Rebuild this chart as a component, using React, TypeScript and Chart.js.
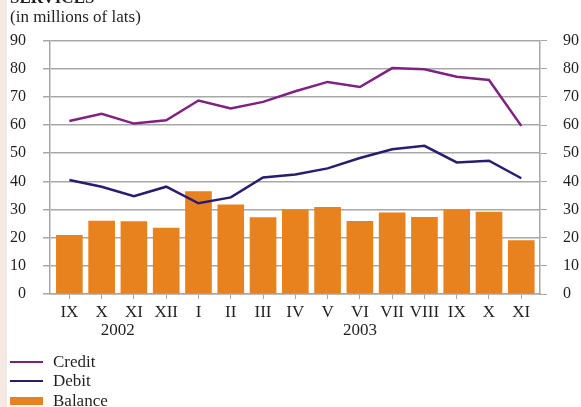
import React, { useEffect, useRef } from "react";
import { Chart, registerables } from "chart.js";

Chart.register(...registerables);

const months = ["IX", "X", "XI", "XII", "I", "II", "III", "IV", "V", "VI", "VII", "VIII", "IX", "X", "XI"];
const credit = [61.4, 64.0, 60.5, 61.7, 68.7, 65.9, 68.2, 72.0, 75.3, 73.5, 80.2, 79.8, 77.1, 76.0, 59.7];
const debit = [40.5, 38.1, 34.7, 38.1, 32.2, 34.3, 41.4, 42.4, 44.6, 48.3, 51.4, 52.6, 46.7, 47.3, 41.1];
const balance = [20.8, 25.9, 25.7, 23.4, 36.4, 31.7, 27.1, 29.9, 30.8, 25.8, 28.8, 27.2, 30.0, 29.1, 19.0];
const years = ["2002", "2003"];
const yearAnchors = [1.5, 9];

const TEXT = "#231f20";
const GRID = "#a7a7a7";
const FONT = "'Liberation Serif', 'Times New Roman', serif";
const CREDIT_COLOR = "#7f2183";
const DEBIT_COLOR = "#2b1c70";
const BAR_COLOR = "#e8821e";

const toXY = (arr: number[]) => arr.map((y, i) => ({ x: i, y }));

const yearPlugin = {
  id: "yearLabels",
  afterDraw(chart: any) {
    const xs = chart.scales.x;
    const ctx = chart.ctx;
    ctx.save();
    ctx.font = `17px ${FONT}`;
    ctx.fillStyle = TEXT;
    ctx.textAlign = "center";
    ctx.textBaseline = "middle";
    years.forEach((y, i) => {
      ctx.fillText(y, xs.getPixelForValue(yearAnchors[i]), xs.top + 37);
    });
    ctx.restore();
  },
};

export default function App() {
  const ref = useRef<HTMLCanvasElement>(null);
  useEffect(() => {
    if (!ref.current) return;
    const yTicks = {
      stepSize: 5,
      color: TEXT,
      font: { family: FONT, size: 16 },
      callback: (v: any) => (Number(v) % 10 === 0 ? String(v) : ""),
    };
    const chart = new Chart(ref.current, {
      type: "bar",
      data: {
        datasets: [
          {
            type: "line",
            label: "Credit",
            data: toXY(credit),
            borderColor: CREDIT_COLOR,
            borderWidth: 2.5,
            pointRadius: 0,
            tension: 0,
            order: 0,
            yAxisID: "y",
          } as any,
          {
            type: "line",
            label: "Debit",
            data: toXY(debit),
            borderColor: DEBIT_COLOR,
            borderWidth: 2.5,
            pointRadius: 0,
            tension: 0,
            order: 0,
            yAxisID: "y",
          } as any,
          {
            type: "bar",
            label: "Balance",
            data: toXY(balance),
            backgroundColor: BAR_COLOR,
            borderWidth: 0,
            barThickness: 26,
            order: 1,
            yAxisID: "y",
          } as any,
        ],
      },
      options: {
        animation: false,
        responsive: true,
        maintainAspectRatio: false,
        layout: { padding: { top: 40.5, left: 0, right: 0, bottom: 0 } },
        plugins: { legend: { display: false }, tooltip: { enabled: false } },
        scales: {
          x: {
            type: "linear",
            offset: false,
            min: -0.6,
            max: 14.58,
            afterBuildTicks: (s: any) => {
              s.ticks = months.map((_, i) => ({ value: i }));
            },
            afterFit: (s: any) => {
              s.height = 113;
            },
            ticks: {
              autoSkip: false,
              maxRotation: 0,
              padding: 3,
              color: TEXT,
              font: { family: FONT, size: 17 },
              callback: (v: any) => months[Number(v)] ?? "",
            },
            grid: {
              display: true,
              offset: false,
              drawOnChartArea: false,
              drawTicks: true,
              tickLength: 5,
              tickColor: GRID,
            },
            border: { display: true, color: GRID, width: 1.5 },
          },
          y: {
            position: "left",
            min: 0,
            max: 90,
            afterFit: (s: any) => {
              s.width = 50;
            },
            ticks: { ...yTicks, padding: 17 },
            grid: {
              color: (c: any) => (c.tick && c.tick.value % 10 === 0 ? GRID : "rgba(0,0,0,0)"),
              lineWidth: 1.5,
              tickColor: GRID,
              tickLength: 7,
            },
            border: { display: true, color: GRID, width: 1.5 },
          },
          y2: {
            position: "right",
            min: 0,
            max: 90,
            afterFit: (s: any) => {
              s.width = 41;
            },
            ticks: { ...yTicks, padding: 16 },
            grid: {
              drawOnChartArea: false,
              tickColor: GRID,
              tickLength: 7,
            },
            border: { display: true, color: GRID, width: 1.5 },
          },
        },
      } as any,
      plugins: [yearPlugin],
    });
    return () => chart.destroy();
  }, []);

  const legendItem = (label: string, color: string, thick: number, top: number) => (
    <div style={{ position: "absolute", left: 10, top, height: 20, display: "flex", alignItems: "center" }}>
      <div style={{ width: 33, height: thick, background: color }} />
      <span style={{ marginLeft: 10, fontSize: 17, color: TEXT, fontFamily: FONT, lineHeight: "20px" }}>{label}</span>
    </div>
  );

  return (
    <div style={{ position: "fixed", left: 0, top: 0, width: 581, height: 407, background: "#fff", overflow: "hidden" }}>
      <div style={{ position: "absolute", left: 0, top: 0, width: 7, height: 407, background: "#f6e8e5" }} />
      <canvas ref={ref} style={{ position: "absolute", left: 0, top: 0 }} />
      <div
        style={{
          position: "absolute",
          left: 10,
          top: -12,
          fontFamily: FONT,
          fontWeight: "bold",
          fontSize: 17,
          color: TEXT,
          lineHeight: "20px",
        }}
      >
        SERVICES
      </div>
      <div style={{ position: "absolute", left: 10, top: 7, fontFamily: FONT, fontSize: 17, color: TEXT, lineHeight: "20px" }}>
        (in millions of lats)
      </div>
      {legendItem("Credit", CREDIT_COLOR, 2.5, 352)}
      {legendItem("Debit", DEBIT_COLOR, 2.5, 371)}
      {legendItem("Balance", BAR_COLOR, 8, 391)}
    </div>
  );
}
